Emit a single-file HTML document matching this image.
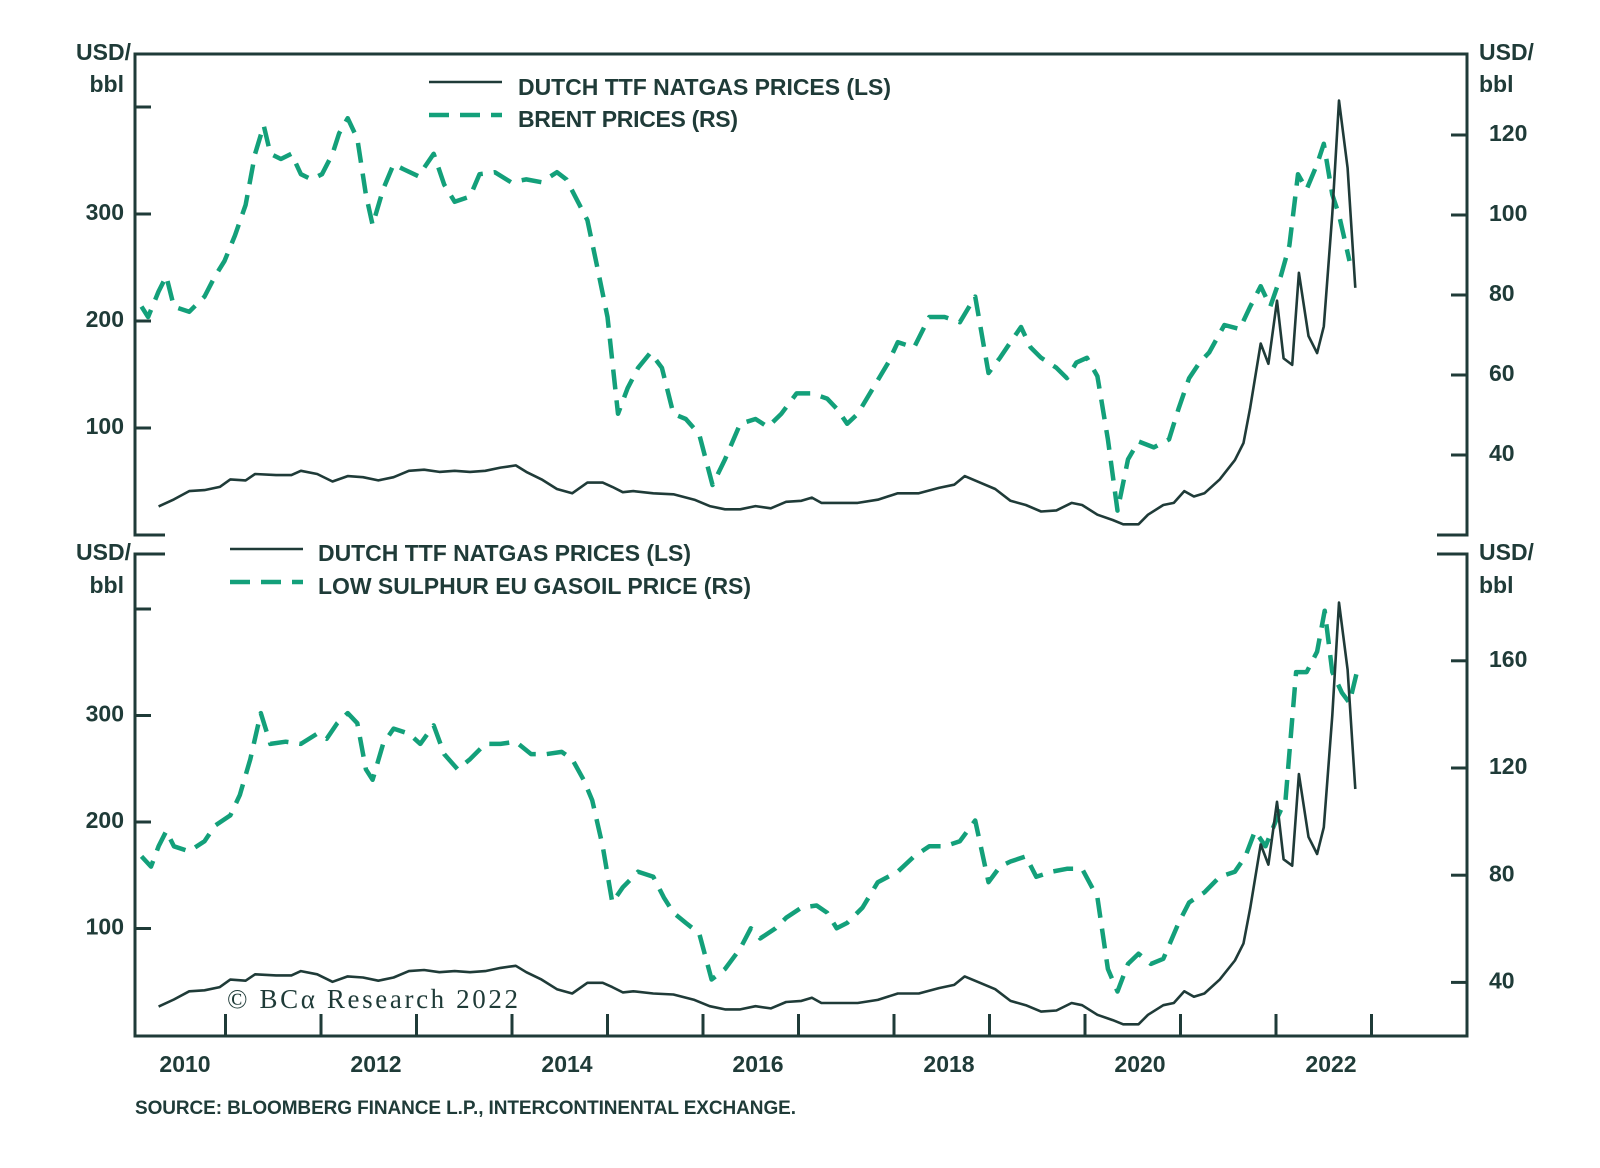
<!DOCTYPE html>
<html><head><meta charset="utf-8"><style>
html,body{margin:0;padding:0;background:#fff;}
svg{display:block;}
text{font-family:"Liberation Sans",sans-serif;fill:#1f3b38;font-weight:bold;}
</style></head><body>
<svg id="chart" width="1600" height="1168" viewBox="0 0 1600 1168" xmlns="http://www.w3.org/2000/svg"></svg>
<script>
const gasDates=[2010.30,2010.46,2010.62,2010.78,2010.94,2011.05,2011.21,2011.31,2011.53,2011.69,2011.79,2011.96,2012.12,2012.28,2012.44,2012.60,2012.76,2012.92,2013.08,2013.24,2013.40,2013.56,2013.72,2013.88,2014.04,2014.15,2014.31,2014.47,2014.63,2014.79,2014.95,2015.05,2015.16,2015.27,2015.48,2015.69,2015.91,2016.07,2016.23,2016.39,2016.55,2016.71,2016.87,2017.03,2017.14,2017.24,2017.40,2017.62,2017.83,2018.04,2018.26,2018.47,2018.63,2018.74,2018.90,2019.06,2019.22,2019.38,2019.54,2019.70,2019.86,2019.97,2020.13,2020.29,2020.40,2020.56,2020.66,2020.82,2020.93,2021.04,2021.14,2021.25,2021.41,2021.57,2021.66,2021.73,2021.84,2021.92,2022.01,2022.08,2022.17,2022.24,2022.34,2022.43,2022.50,2022.59,2022.66,2022.75,2022.83];
const gasVals=[26.7,33.3,41,42,45,52,51,57,56,56,60,57,50,55,54,51,54,60,61,59,60,59,60,63,65,59,52,43,39,49,49,45,40,41,39,38,33,27,24,24,27,25,31,32,35,30,30,30,33,39,39,44,47,55,49,43,32,28,22,23,30,28,19,14,10,10,19,28,30,41,36,39,52,70,86,119,179,160,219,165,159,245,186,170,195,300,406,343,231];
const brentDates=[2010.12,2010.19,2010.30,2010.38,2010.46,2010.62,2010.78,2010.89,2010.99,2011.10,2011.21,2011.31,2011.40,2011.47,2011.58,2011.69,2011.79,2011.90,2012.01,2012.12,2012.19,2012.28,2012.38,2012.47,2012.54,2012.65,2012.76,2012.86,2013.02,2013.18,2013.29,2013.40,2013.56,2013.66,2013.82,2013.99,2014.15,2014.31,2014.47,2014.57,2014.68,2014.79,2014.89,2015.00,2015.11,2015.21,2015.32,2015.45,2015.57,2015.69,2015.82,2015.96,2016.10,2016.23,2016.39,2016.55,2016.68,2016.82,2016.98,2017.14,2017.30,2017.40,2017.51,2017.62,2017.78,2017.94,2018.04,2018.21,2018.37,2018.53,2018.69,2018.85,2018.99,2019.11,2019.22,2019.33,2019.43,2019.54,2019.70,2019.81,2019.91,2020.02,2020.13,2020.24,2020.34,2020.45,2020.56,2020.72,2020.88,2020.98,2021.09,2021.20,2021.30,2021.46,2021.62,2021.73,2021.84,2021.94,2022.05,2022.14,2022.23,2022.32,2022.43,2022.50,2022.59,2022.66,2022.77];
const brentVals=[77.1,74.5,80.9,84.7,77.1,75.8,79.6,84.7,88.5,94.9,102.5,115.3,122.4,115.3,114,115.3,110.2,108.9,110.2,115.3,120.4,124.2,119.1,105.1,97.5,106.4,112.7,111.5,109.7,115.3,107.6,103.3,104.6,110.2,110.7,108.2,108.9,108.2,110.7,108.9,103.8,98.7,87.3,74.5,50.3,56.7,61.8,65.6,61.8,50.3,49,45.2,32.5,38.9,47.8,49,47,50.3,55.4,55.4,54.1,51.6,47.8,50.3,56.7,63.1,68.2,66.9,74.5,74.5,73.2,79.6,60.5,64.3,68.2,72,66.9,64.3,61.8,59.2,63.1,64.3,59.7,43.9,26.1,38.9,43.4,41.9,43.9,51.6,59.2,63.1,65.6,72.5,71.5,77.1,82.2,77.1,84.7,92.4,110.2,106.4,112.7,117.8,105.1,100,88.5];
const gasoilDates=[2010.12,2010.22,2010.30,2010.38,2010.46,2010.62,2010.78,2010.89,2011.05,2011.15,2011.26,2011.37,2011.47,2011.63,2011.79,2011.96,2012.06,2012.17,2012.28,2012.38,2012.47,2012.54,2012.65,2012.76,2012.92,2013.04,2013.18,2013.29,2013.43,2013.56,2013.72,2013.88,2014.04,2014.20,2014.36,2014.52,2014.63,2014.75,2014.84,2014.95,2015.05,2015.16,2015.32,2015.48,2015.59,2015.69,2015.82,2015.96,2016.09,2016.23,2016.39,2016.50,2016.60,2016.76,2016.87,2017.03,2017.19,2017.30,2017.40,2017.51,2017.67,2017.83,2018.04,2018.21,2018.37,2018.53,2018.69,2018.85,2018.99,2019.11,2019.22,2019.38,2019.49,2019.65,2019.81,2019.97,2020.13,2020.24,2020.34,2020.45,2020.56,2020.69,2020.82,2020.98,2021.09,2021.25,2021.41,2021.57,2021.68,2021.78,2021.89,2022.00,2022.10,2022.21,2022.32,2022.43,2022.51,2022.59,2022.69,2022.77,2022.86];
const gasoilVals=[87,83.2,90.8,96.5,90.8,88.9,92.7,98.5,102.3,109.9,123.3,140.5,129,129.8,129,132.8,130.9,136.7,140.5,136.7,119.5,115.6,129,134.7,132.8,129,135.9,125.2,119.5,123.3,129,129,129.8,125.2,125.2,126,123.3,115.6,108,90.8,69.8,75.5,81.3,79.4,71.7,66,62.2,58.3,41.1,45,52.6,60.2,56.4,60.2,64.1,67.9,68.7,66,60.2,62.2,67.9,77.4,81.3,87,90.8,90.8,92.7,100.4,77.4,83.2,85.1,87,79.4,81.3,82.4,82.4,71.7,45,36.6,46.9,50.7,46.9,48.8,62.2,69.8,73.6,79.4,81.3,87,96.5,90.8,100.4,108,155.8,155.8,163.4,178.7,155.8,148.1,144.3,157.7];
const leftTicks=[100,200,300,400];
const topRightTicks=[40,60,80,100,120];
const botRightTicks=[40,80,120,160];
const yearLabels=[2010,2012,2014,2016,2018,2020,2022];
const yearTicks=[2011,2012,2013,2014,2015,2016,2017,2018,2019,2020,2021,2022,2023];

const NS="http://www.w3.org/2000/svg";
const svg=document.getElementById('chart');
const INK="#1f3b38", GREEN="#13a07a";
const L=135,R=1467;
const FS=23;
function X(y){return 130+(y-2010)*95.5;}
const topL=v=>535-v*1.07, topR=v=>535-(v-20)*4.0;
const botL=v=>1035-v*1.065, botR=v=>1036-(v-20)*2.68;
function el(tag,attrs,parent){const e=document.createElementNS(NS,tag);for(const k in attrs)e.setAttribute(k,attrs[k]);(parent||svg).appendChild(e);return e;}
function txt(s,x,y,size,anchor,parent){const t=el('text',{x:x,y:y,'font-size':size,'text-anchor':anchor||'start','dominant-baseline':'middle'},parent);t.textContent=s;return t;}
function line(x1,y1,x2,y2,w,parent){return el('line',{x1,y1,x2,y2,stroke:INK,'stroke-width':w||3},parent);}
function path(dates,vals,fy,dashed,parent){let d='';dates.forEach((t,i)=>{d+=(i?'L':'M')+X(t).toFixed(1)+','+fy(vals[i]).toFixed(1);});
 return el('path',{d:d,fill:'none',stroke:dashed?GREEN:INK,'stroke-width':dashed?4.5:2.6,'stroke-dasharray':dashed?'20 11':'none','stroke-linejoin':'round'},parent);}

// TOP PANEL
const gTop=el('g',{});

let f=el('path',{d:`M${L+30},535 L${L},535 L${L},54 L${R},54 L${R},535 L${R-30},535`,fill:'none',stroke:INK,'stroke-width':3},gTop);

leftTicks.forEach(v=>{line(L,topL(v),L+16,topL(v),3,gTop);if(v<400){const t=txt(String(v),124,topL(v),FS,'end',gTop);}});
topRightTicks.forEach(v=>{line(R-16,topR(v),R,topR(v),3,gTop);const t=txt(String(v),1489,topR(v),FS,'start',gTop);});
let a=txt('USD/',131,54,FS,'end',gTop);
a=txt('bbl',124,86,FS,'end',gTop);
a=txt('USD/',1479,54,FS,'start',gTop);
a=txt('bbl',1479,86,FS,'start',gTop);
let p=path(brentDates,brentVals,topR,true,gTop);
p=path(gasDates,gasVals,topL,false,gTop);
let lg=el('g',{},gTop);
line(429,82,502,82,2.6,lg);
el('line',{x1:429,y1:115,x2:502,y2:115,stroke:GREEN,'stroke-width':4.5,'stroke-dasharray':'20 11'},lg);
let t=txt('DUTCH TTF NATGAS PRICES (LS)',518,89,23,'start',lg);t.setAttribute('textLength','373');
t=txt('BRENT PRICES (RS)',518,121,23,'start',lg);t.setAttribute('textLength','220');

// BOTTOM PANEL
const gBot=el('g',{});

f=el('path',{d:`M${L+30},554 L${L},554 L${L},1036 L${R},1036 L${R},554 L${R-30},554`,fill:'none',stroke:INK,'stroke-width':3},gBot);

leftTicks.forEach(v=>{line(L,botL(v),L+16,botL(v),3,gBot);if(v<400){const t=txt(String(v),124,botL(v),FS,'end',gBot);}});
botRightTicks.forEach(v=>{line(R-16,botR(v),R,botR(v),3,gBot);const t=txt(String(v),1489,botR(v),FS,'start',gBot);});
yearTicks.forEach(y=>{line(X(y),1036,X(y),1014,3,gBot);});
yearLabels.forEach(y=>{const t=txt(String(y),X(y)+55,1066,FS,'middle',gBot);});
a=txt('USD/',131,554,FS,'end',gBot);
a=txt('bbl',124,587,FS,'end',gBot);
a=txt('USD/',1479,554,FS,'start',gBot);
a=txt('bbl',1479,587,FS,'start',gBot);
p=path(gasoilDates,gasoilVals,botR,true,gBot);
p=path(gasDates,gasVals,botL,false,gBot);
lg=el('g',{},gBot);
line(230,549,303,549,2.6,lg);
el('line',{x1:230,y1:582,x2:303,y2:582,stroke:GREEN,'stroke-width':4.5,'stroke-dasharray':'20 11'},lg);
t=txt('DUTCH TTF NATGAS PRICES (LS)',318,555,23,'start',lg);t.setAttribute('textLength','373');
t=txt('LOW SULPHUR EU GASOIL PRICE (RS)',318,588,23,'start',lg);t.setAttribute('textLength','433');
t=el('text',{x:227,y:1002,'font-size':27,'dominant-baseline':'middle',style:'font-family:"Liberation Serif",serif;font-weight:normal'});t.textContent='© BCα Research 2022';t.setAttribute('textLength','291');

t=txt('SOURCE: BLOOMBERG FINANCE L.P., INTERCONTINENTAL EXCHANGE.',135,1109,19,'start');t.setAttribute('textLength','661');

</script>
</body></html>
